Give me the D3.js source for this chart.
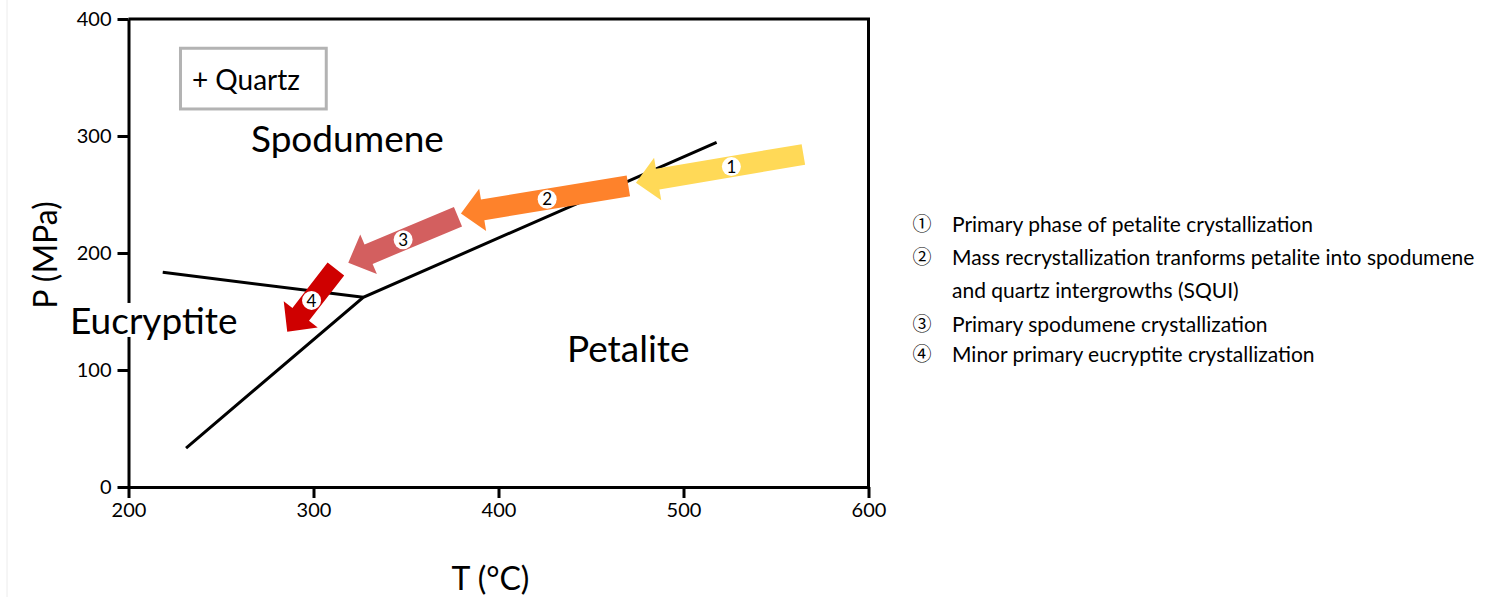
<!DOCTYPE html>
<html>
<head>
<meta charset="utf-8">
<script src="https://cdn.jsdelivr.net/npm/d3@7"></script>
<style>
    body { margin: 0; background: #fff; }
    svg text { font-family: Lato, "Open Sans", sans-serif; fill: #000; }
</style>
</head>
<body>
<div id="phase-chart"></div>
<script>
// ---- data ----
const tempTicks = [200, 300, 400, 500, 600];
const pressureTicks = [0, 100, 200, 300, 400];

// phase boundaries, [T (°C), P (MPa)]
const petaliteBoundary = [[231.1, 33.3], [326.9, 162.1], [517.9, 294.6]];
const eucryptiteBoundary = [[218.5, 183.5], [326.9, 162.1]];

// crystallization path arrows
const arrowTails = [[564.8, 284.2], [470.2, 257.3], [378.1, 231.0], [312.1, 186.3]];
const arrowTips = [[474.3, 260.1], [379.7, 233.8], [318.8, 191.7], [285.8, 132.7]];
const arrowNumbers = ['1', '2', '3', '4'];
const arrowLabelAt = [0.43, 0.485, 0.5, 0.5];   // fraction from tail to tip

// field names
const fieldNames = ['Spodumene', 'Eucryptite', 'Petalite'];
const fieldAnchors = [[266.2, 286.3], [168.4, 130.8], [437.0, 106.8]];
const quartzText = '+ Quartz';
const quartzBox = [[228.1, 375.0], [306.9, 323.1]];
const quartzAnchor = [234.3, 339.3];

// legend
const legendMarks = ['\u2460', '\u2461', '\u2462', '\u2463'];
const legendLines = [
    ['Primary phase of petalite crystallization'],
    ['Mass recrystallization tranforms petalite into spodumene', 'and quartz intergrowths (SQUI)'],
    ['Primary spodumene crystallization'],
    ['Minor primary eucryptite crystallization']
];

class PhaseDiagram {
    constructor(parentElement) {
        this.parentElement = parentElement;
        this.config = {
            width: 1493, height: 597,
            xRange: [128.5, 868.5], yRange: [487, 19],
            arrowColors: ['#FFD957', '#FE822B', '#D35F5F', '#CF0000'],
            shaftHalf: 10.5, headHalf: 21.5, headLen: 22,
            legendX: 922, legendTextX: 952,
            legendBaselines: [[232], [265, 298], [332], [362]]
        };
        this.initVis();
    }

    initVis() {
        let vis = this;
        const c = vis.config;

        vis.svg = d3.select('#' + vis.parentElement).append('svg')
            .attr('width', c.width)
            .attr('height', c.height);

        vis.svg.append('rect')
            .attr('width', c.width).attr('height', c.height)
            .attr('fill', '#fff');

        // faint page edge on the left
        vis.svg.append('line')
            .attr('x1', 7).attr('x2', 7).attr('y1', 0).attr('y2', c.height)
            .attr('stroke', '#ececec').attr('stroke-width', 1);

        vis.x = d3.scaleLinear().domain([200, 600]).range(c.xRange);
        vis.y = d3.scaleLinear().domain([0, 400]).range(c.yRange);

        vis.renderAxes();
        vis.renderBoundaries();
        vis.renderArrows();
        vis.renderLabels();
        vis.renderLegend();
    }

    renderAxes() {
        let vis = this;
        const c = vis.config;

        const xAxis = d3.axisBottom(vis.x).tickValues(tempTicks)
            .tickSize(11).tickSizeOuter(0).tickPadding(5).tickFormat(d3.format('d'));
        const yAxis = d3.axisLeft(vis.y).tickValues(pressureTicks)
            .tickSize(11).tickSizeOuter(0).tickPadding(6).tickFormat(d3.format('d'));

        const xg = vis.svg.append('g')
            .attr('transform', `translate(0,${c.yRange[0]})`)
            .call(xAxis);
        const yg = vis.svg.append('g')
            .attr('transform', `translate(${c.xRange[0]},0)`)
            .call(yAxis);

        [xg, yg].forEach(g => {
            g.selectAll('path, line').attr('stroke', '#000').attr('stroke-width', 3);
            g.selectAll('text').style('font-size', '20px').attr('fill', '#000');
        });

        // top and right frame
        vis.svg.append('path')
            .attr('d', `M${c.xRange[0]},${c.yRange[1]}H${c.xRange[1]}V${c.yRange[0]}`)
            .attr('fill', 'none').attr('stroke', '#000').attr('stroke-width', 3);

        vis.svg.append('text')
            .attr('x', (c.xRange[0] + c.xRange[1]) / 2 - 8)
            .attr('y', 590)
            .attr('text-anchor', 'middle')
            .style('font-size', '32px')
            .text('T (°C)');

        vis.svg.append('text')
            .attr('transform', `translate(57,${255}) rotate(-90)`)
            .attr('text-anchor', 'middle')
            .style('font-size', '32px')
            .text('P (MPa)');
    }

    renderBoundaries() {
        let vis = this;
        const line = d3.line().x(d => vis.x(d[0])).y(d => vis.y(d[1]));

        vis.svg.selectAll('.boundary')
            .data([petaliteBoundary, eucryptiteBoundary])
            .enter().append('path')
            .attr('class', 'boundary')
            .attr('d', line)
            .attr('fill', 'none')
            .attr('stroke', '#000')
            .attr('stroke-width', 3)
            .attr('stroke-linejoin', 'miter');
    }

    renderArrows() {
        let vis = this;
        const c = vis.config;

        const arrows = arrowTails.map((t, i) => {
            const x0 = vis.x(t[0]), y0 = vis.y(t[1]);
            const x1 = vis.x(arrowTips[i][0]), y1 = vis.y(arrowTips[i][1]);
            const len = Math.hypot(x1 - x0, y1 - y0);
            const ux = (x1 - x0) / len, uy = (y1 - y0) / len;
            const nx = -uy, ny = ux;
            const neckX = x1 - ux * c.headLen, neckY = y1 - uy * c.headLen;
            const pts = [
                [x0 + nx * c.shaftHalf, y0 + ny * c.shaftHalf],
                [neckX + nx * c.shaftHalf, neckY + ny * c.shaftHalf],
                [neckX + nx * c.headHalf, neckY + ny * c.headHalf],
                [x1, y1],
                [neckX - nx * c.headHalf, neckY - ny * c.headHalf],
                [neckX - nx * c.shaftHalf, neckY - ny * c.shaftHalf],
                [x0 - nx * c.shaftHalf, y0 - ny * c.shaftHalf]
            ];
            const f = arrowLabelAt[i];
            return {
                pts: pts, color: c.arrowColors[i], num: arrowNumbers[i],
                lx: x0 + (x1 - x0) * f, ly: y0 + (y1 - y0) * f
            };
        });

        const g = vis.svg.selectAll('.arrow')
            .data(arrows)
            .enter().append('g')
            .attr('class', 'arrow');

        g.append('polygon')
            .attr('points', d => d.pts.map(p => p.join(',')).join(' '))
            .attr('fill', d => d.color);

        g.append('circle')
            .attr('cx', d => d.lx).attr('cy', d => d.ly)
            .attr('r', 9.5)
            .attr('fill', '#fff');

        g.append('text')
            .attr('x', d => d.lx).attr('y', d => d.ly)
            .attr('dy', '0.36em')
            .attr('text-anchor', 'middle')
            .style('font-size', '17px')
            .attr('fill', '#111')
            .text(d => d.num);
    }

    renderLabels() {
        let vis = this;

        // quartz box
        vis.svg.append('rect')
            .attr('x', vis.x(quartzBox[0][0]))
            .attr('y', vis.y(quartzBox[0][1]))
            .attr('width', vis.x(quartzBox[1][0]) - vis.x(quartzBox[0][0]))
            .attr('height', vis.y(quartzBox[1][1]) - vis.y(quartzBox[0][1]))
            .attr('fill', '#fff')
            .attr('stroke', '#b3b3b3')
            .attr('stroke-width', 3);

        vis.svg.append('text')
            .attr('x', vis.x(quartzAnchor[0]))
            .attr('y', vis.y(quartzAnchor[1]))
            .style('font-size', '28px')
            .text(quartzText);

        const labels = vis.svg.selectAll('.field')
            .data(fieldNames)
            .enter().append('g')
            .attr('class', 'field');

        // white backing so the label sits over the axis line
        labels.filter(d => d === 'Eucryptite').append('rect')
            .attr('x', vis.x(fieldAnchors[1][0]) - 4)
            .attr('y', vis.y(fieldAnchors[1][1]) - 31)
            .attr('width', 178)
            .attr('height', 34)
            .attr('fill', '#fff');

        labels.append('text')
            .attr('x', (d, i) => vis.x(fieldAnchors[i][0]))
            .attr('y', (d, i) => vis.y(fieldAnchors[i][1]))
            .style('font-size', '37px')
            .text(d => d);
    }

    renderLegend() {
        let vis = this;
        const c = vis.config;

        const items = vis.svg.selectAll('.legend-item')
            .data(legendLines)
            .enter().append('g')
            .attr('class', 'legend-item');

        items.append('text')
            .attr('x', c.legendX)
            .attr('y', (d, i) => c.legendBaselines[i][0] - 1)
            .attr('text-anchor', 'middle')
            .style('font-family', '"Noto Sans CJK JP", "DejaVu Sans", sans-serif')
            .style('font-size', '19px')
            .text((d, i) => legendMarks[i]);

        items.each(function (lines, i) {
            d3.select(this).selectAll('.legend-line')
                .data(lines)
                .enter().append('text')
                .attr('class', 'legend-line')
                .attr('x', c.legendTextX)
                .attr('y', (d, j) => c.legendBaselines[i][j])
                .style('font-size', '21px')
                .text(d => d);
        });
    }
}

new PhaseDiagram('phase-chart');
</script>
</body>
</html>
